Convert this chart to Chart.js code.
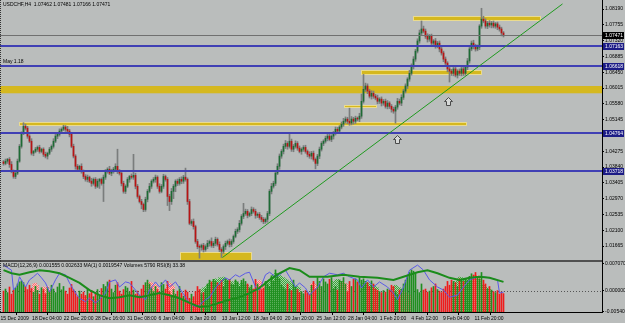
<!DOCTYPE html>
<html lang="en">
<head>
<meta charset="UTF-8">
<title>USDCHF H4</title>
<script src="https://cdn.jsdelivr.net/npm/chart.js"></script>
<style>
  html, body { margin: 0; padding: 0; background: #babdbc; }
  #wrap { position: relative; width: 625px; height: 323px; overflow: hidden; }
  #main { position: absolute; left: 0; top: 0; }
  #sub { position: absolute; left: 0; top: 261px; }
</style>
</head>
<body>
<div id="wrap">
  <canvas id="main" width="625" height="261"></canvas>
  <canvas id="sub" width="625" height="62"></canvas>
</div>
<script>
// H4 closes in pips above 1.0000 (394 -> 1.0394), bar 0 = 15 Dec 2009
const firstOpen = 398;
const closes = [
  394,400,405,391,372,358,367,400,441,477,
  496,491,469,455,422,427,433,438,427,433,
  419,414,422,433,441,455,469,474,483,488,
  494,488,483,474,441,414,386,378,386,372,
  358,350,356,345,339,350,331,345,350,339,
  356,372,378,367,372,378,386,372,367,339,
  317,331,350,358,356,361,331,303,289,281,
  267,295,317,331,345,350,356,331,317,331,
  358,350,303,289,317,331,345,339,350,345,
  356,350,289,229,234,220,179,165,163,168,
  157,165,174,179,168,174,185,171,157,152,
  165,174,179,171,179,193,207,212,229,248,
  256,262,251,256,267,262,251,254,245,240,
  234,240,256,317,331,339,367,386,414,427,
  441,449,441,455,433,441,449,436,427,433,
  438,427,419,414,422,405,394,414,433,449,
  455,463,469,460,469,477,488,483,494,502,
  510,516,510,505,516,510,518,516,524,565,
  598,607,593,579,587,579,574,565,571,560,
  565,551,560,551,543,538,549,565,560,576,
  593,607,626,642,662,681,703,731,753,764,
  758,744,736,744,725,731,717,725,709,698,
  681,670,654,648,642,654,637,648,642,654,
  642,659,676,709,725,717,709,714,772,791,
  786,772,780,775,780,772,778,769,764,753,
  747
];
// upper / lower shadow lengths in pips
const wickUp = [
  4,6,3,5,8,4,3,6,5,4, 10,6,5,4,7,3,5,4,6,3, 4,6,3,5,4,7,5,3,6,4, 5,4,8,5,3,6,4,5,3,7,
  4,5,6,3,8,4,5,6,3,4, 6,5,4,8,6,5,7,47,5,4, 6,4,5,3,7,58,6,5,4,6, 4,6,5,8,4,5,6,4,7,5,
  6,4,5,6,8,5,4,6,5,7, 5,25,4,6,5,7,4,6,5,4, 6,5,8,4,10,5,6,4,7,5, 5,6,4,7,5,4,6,5,8,5,
  28,6,5,4,7,5,6,4,5,6, 5,4,6,5,8,6,5,7,6,5, 6,8,5,20,6,5,7,5,6,4, 5,6,4,7,5,6,4,5,6,5,
  4,6,5,7,4,5,6,5,4,6, 8,6,5,36,7,5,6,4,8,20, 41,8,6,5,7,6,5,8,4,6, 5,6,7,4,5,6,5,8,6,7,
  5,6,4,8,6,7,5,6,8,22, 8,6,7,5,6,4,7,5,6,5, 5,6,4,7,5,6,5,4,6,5, 6,5,7,5,6,8,5,6,4,30,
  8,6,5,7,5,6,4,5,6,5, 4
];
const wickDn = [
  5,4,6,8,4,5,6,4,3,5, 4,5,6,4,5,7,4,6,5,4, 6,5,8,4,6,5,4,7,5,6, 4,6,5,7,4,5,8,6,4,5,
  6,5,7,4,8,5,6,4,20,5, 50,6,5,4,7,5,4,6,5,7, 5,6,4,8,5,6,7,5,4,12, 6,5,7,4,6,5,8,6,5,4,
  6,5,25,25,8,20,15,6,5,7, 6,5,8,4,6,7,5,6,30,8, 7,5,6,8,5,6,7,5,6,17, 6,8,5,7,6,5,4,6,7,5,
  6,5,7,4,6,5,8,6,5,7, 6,5,8,6,7,5,6,4,8,6, 7,6,8,5,6,7,5,6,4,8, 6,5,7,6,8,5,15,6,7,5,
  6,5,7,4,6,8,5,6,7,5, 6,5,7,6,5,8,6,5,7,6, 5,6,7,5,8,6,5,7,6,8, 6,5,7,6,8,6,33,6,5,7,
  6,5,7,6,5,8,6,5,6,7, 5,6,8,6,5,7,6,5,8,6, 7,6,8,30,6,7,5,8,6,7, 6,5,7,6,5,8,6,5,7,6,
  5,6,7,6,8,5,6,7,6,8, 5
];
const volumes = [
  820,900,760,980,700,860,940,1100,1180,1220, 1150,1000,880,1050,920,780,1010,850,700,950,
  880,720,960,800,1050,900,760,980,1120,870, 1000,820,700,940,1080,880,760,600,820,700,
  780,650,900,720,840,600,760,880,640,920, 1080,1000,1180,1250,900,760,1050,1150,820,700,
  880,1000,940,780,1200,860,700,820,650,900, 1050,1150,1250,1100,920,800,1000,880,760,1150,
  1080,900,1200,800,650,880,700,820,1000,740, 620,860,780,540,700,600,800,1000,880,720,
  760,900,1100,1250,1180,1280,1200,1150,1050,1240, 1000,1300,1220,1280,1100,1050,1260,1180,1000,1240,
  1300,1200,1100,950,1050,900,1280,1100,1000,880, 940,1200,1100,1000,1420,1200,1650,1500,1300,1050,
  960,880,1100,900,840,1250,1000,880,760,800, 720,840,760,700,1050,1200,900,1350,1200,1000,
  1300,1180,1100,1280,1350,900,1000,860,1250,1200, 1350,1100,800,1200,1000,1280,1300,1180,1350,1250,
  1300,1200,1150,1000,1220,1100,900,850,800,760, 840,780,900,860,1050,1000,800,700,860,900,
  1100,1250,1400,1550,1650,1600,1500,880,760,1100, 860,900,780,820,950,1000,1100,880,820,760,
  900,1000,1200,1050,1250,1200,1150,1000,1300,1250, 1200,1300,1250,1400,1500,1450,1550,1400,1300,1550,
  1250,1100,900,1000,860,800,760,840,700,780, 720
];
// dotted histogram blocks: [first bar, values]
const pinkHist = [
  [15, [1100,1130,1050]],
  [20, [980,950,1000,900]],
  [39, [520,560,580,540,500,560,520,480,500]],
  [72, [1100,1170,1150,1120,1080,1000]],
  [82, [1050,1130,1100,1000]],
  [92, [450,480,500,470,440,460,420]],
  [127, [1200,1250,1180,1100]],
  [154, [1100,1130,1080,1000,950]],
  [169, [1150,1170,1120,1080]],
  [199, [780,800,760,700,650]],
  [235, [1400,1440,1420,1380]]
];
const greenHist = [
  [99, [900,950,1000,1080,1150,1200,1250,1300,1280,1350,1320,1370,1300,1250,1280,1200,1150,1220,1180,1100,1150,1080,1000,1050,980,900,880]],
  [132, [1150,1250,1350,1450,1530,1500,1450,1400,1350,1300,1250,1200,1150,1100,1050,1000,950]],
  [165, [1200,1250,1280,1250,1200,1150]],
  [180, [1150,1200,1170,1150,1100,1050,1000,950]],
  [195, [1000,1050,1000,950]],
  [225, [1100,1200,1300,1370,1350,1300,1250,1300,1350,1300,1250]],
  [240, [1050,1000,950,900]]
];
// [bar, value 0..100]
const rsiPoints = [
  [0,92],[4,82],[5,43],[7,53],[8,69],[11,49],[13,63],[15,69],[17,76],[19,67],[21,57],[23,39],
  [26,63],[28,76],[31,73],[33,57],[36,37],[38,27],[41,20],[43,27],[46,18],[48,24],[51,37],[53,59],
  [56,63],[58,49],[61,59],[63,57],[66,43],[68,33],[71,24],[73,43],[76,59],[78,49],[81,63],[83,49],
  [86,59],[88,47],[91,29],[93,18],[96,10],[98,14],[101,24],[103,29],[106,47],[108,57],[111,67],[113,63],
  [116,73],[118,69],[121,76],[123,78],[126,49],[128,43],[131,73],[133,78],[136,69],[138,73],[141,82],[143,69],
  [146,49],[148,57],[151,47],[153,33],[157,49],[160,69],[163,76],[167,73],[170,76],[173,69],[177,63],[179,47],
  [182,63],[185,49],[188,59],[192,49],[195,37],[197,24],[200,49],[203,82],[207,92],[210,82],[213,63],[217,49],
  [220,43],[223,29],[227,33],[230,49],[233,63],[237,69],[240,69],[243,67],[247,63],[248,37],[250,39]
];
const maPoints = [
  [0,82],[4,76],[8,73],[13,78],[18,82],[23,80],[28,76],[33,67],[38,57],[43,43],[48,33],[53,27],
  [58,29],[63,33],[68,29],[73,33],[78,37],[83,33],[88,27],[93,18],[98,10],[103,12],[108,18],[113,24],
  [118,29],[123,37],[128,47],[133,63],[138,76],[143,86],[148,82],[153,69],[162,69],[170,73],[178,69],
  [187,67],[195,63],[200,69],[207,78],[212,82],[217,76],[223,67],[228,63],[233,67],[238,69],[243,67],[250,59]
];

const priceTicks = [1.08190,1.07755,1.07320,1.06885,1.06450,1.06015,1.05580,1.05145,1.04710,
  1.04275,1.03840,1.03405,1.02970,1.02535,1.02100,1.01665];
const subTicks = [0.007070, 0.000000, -0.005405];
const timeLabels = ['15 Dec 2009','18 Dec 04:00','22 Dec 20:00','28 Dec 16:00','31 Dec 08:00',
  '6 Jan 04:00','8 Jan 20:00','13 Jan 12:00','18 Jan 04:00','20 Jan 20:00','25 Jan 12:00',
  '28 Jan 04:00','1 Feb 20:00','4 Feb 12:00','9 Feb 04:00','11 Feb 20:00'];
const timeTickBars = [-1.5,14.3,30.1,45.9,61.7,77.5,93.3,109.1,124.9,140.7,156.5,172.3,188.1,203.9,219.7,235.5];

const bidPrice = 1.07471;
const blueLevels = [1.07163, 1.06618, 1.04764, 1.03718];
const bandZone = [1.0607, 1.0587];
// [from bar, to bar, top price, bottom price]
const zones = [
  [204.5, 268.5, 1.0800, 1.0786],
  [178.5, 239.5, 1.0651, 1.0637],
  [170, 186.5, 1.0554, 1.0546],
  [7.5, 232, 1.0507, 1.0496],
  [88, 124, 1.0149, 1.0118]
];
const trendLine = [[109.5, 1.0135], [279.5, 1.0833]];
const arrows = [[196.5, 1.0460], [222, 1.0565]];
const symbolText = 'USDCHF,H4  1.07462 1.07481 1.07166 1.07471';
const lineText = 'May 1.18';
const subText = 'MACD(12,26,9) 0.001555 0.002633 MA(1) 0.0019547 Volumes 5790 RSI(8) 33.38';

const BULL = '#1d6b34', BEAR = '#b81414', WICK = '#7a7d7c';
const FONT = '5px "Liberation Sans", Arial, sans-serif';
const pip = v => 1 + v / 10000;
const opens = closes.map((c, i) => i === 0 ? firstOpen : closes[i - 1]);
const isUp = closes.map((c, i) => c >= opens[i]);

const xRange = { type: 'linear', min: -1.75, max: 299.25, offset: false };

function stipple(dot, base) {
  const c = document.createElement('canvas');
  c.width = 2; c.height = 2;
  const g = c.getContext('2d');
  g.fillStyle = base; g.fillRect(0, 0, 2, 2);
  g.fillStyle = dot; g.fillRect(0, 0, 1, 1); g.fillRect(1, 1, 1, 1);
  return g.createPattern(c, 'repeat');
}

const mainOverlay = {
  id: 'mainOverlay',
  beforeDatasetsDraw(chart) {
    const { ctx, chartArea: a, scales: { x, y } } = chart;
    ctx.save();
    ctx.beginPath();
    ctx.rect(a.left, a.top, a.right - a.left, a.bottom - a.top);
    ctx.clip();
    ctx.fillStyle = '#d5b81f';
    const b0 = y.getPixelForValue(bandZone[0]), b1 = y.getPixelForValue(bandZone[1]);
    ctx.fillRect(a.left, b0, a.right - a.left, b1 - b0);
    zones.forEach(([s, e, p0, p1]) => {
      const x0 = Math.round(x.getPixelForValue(s)), x1 = Math.round(x.getPixelForValue(e));
      const y0 = Math.round(y.getPixelForValue(p0)), y1 = Math.round(y.getPixelForValue(p1));
      ctx.fillStyle = '#d5b81f';
      ctx.fillRect(x0, y0, x1 - x0, y1 - y0);
      ctx.strokeStyle = '#ffffff';
      ctx.lineWidth = 1;
      ctx.setLineDash([1, 1]);
      ctx.strokeRect(x0 + 0.5, y0 + 0.5, x1 - x0 - 1, y1 - y0 - 1);
      ctx.setLineDash([]);
    });
    ctx.restore();
  },
  afterDatasetsDraw(chart) {
    const { ctx, chartArea: a, scales: { x, y } } = chart;
    ctx.save();
    ctx.beginPath();
    ctx.rect(a.left, a.top, a.right - a.left, a.bottom - a.top);
    ctx.clip();
    // bid line
    let py = Math.round(y.getPixelForValue(bidPrice)) + 0.5;
    ctx.strokeStyle = '#707070';
    ctx.lineWidth = 1;
    ctx.beginPath(); ctx.moveTo(a.left, py); ctx.lineTo(a.right, py); ctx.stroke();
    // horizontal levels
    ctx.strokeStyle = '#4040b4';
    ctx.lineWidth = 2;
    blueLevels.forEach(p => {
      const yy = Math.round(y.getPixelForValue(p));
      ctx.beginPath(); ctx.moveTo(a.left, yy); ctx.lineTo(a.right, yy); ctx.stroke();
    });
    // trend line
    const [t0, t1] = trendLine;
    ctx.strokeStyle = '#1f9a1f';
    ctx.lineWidth = 1;
    ctx.beginPath();
    ctx.moveTo(x.getPixelForValue(t0[0]), y.getPixelForValue(t0[1]));
    ctx.lineTo(x.getPixelForValue(t1[0]), y.getPixelForValue(t1[1]));
    ctx.stroke();
    // hollow arrows
    arrows.forEach(([b, p]) => {
      const cx = Math.round(x.getPixelForValue(b)) + 0.5, cy = Math.round(y.getPixelForValue(p)) + 0.5;
      ctx.beginPath();
      ctx.moveTo(cx, cy - 4);
      ctx.lineTo(cx + 4, cy);
      ctx.lineTo(cx + 2, cy);
      ctx.lineTo(cx + 2, cy + 4);
      ctx.lineTo(cx - 2, cy + 4);
      ctx.lineTo(cx - 2, cy);
      ctx.lineTo(cx - 4, cy);
      ctx.closePath();
      ctx.fillStyle = 'rgba(235,235,235,0.6)';
      ctx.fill();
      ctx.strokeStyle = '#4a4a4a';
      ctx.stroke();
    });
    ctx.restore();
    ctx.save();
    ctx.font = FONT;
    ctx.fillStyle = '#000';
    ctx.textBaseline = 'top';
    ctx.fillText(symbolText, 3, 2);
    ctx.fillText(lineText, 3, 59);
    ctx.restore();
  },
  afterDraw(chart) {
    const { ctx, chartArea: a, scales: { y } } = chart;
    ctx.save();
    ctx.font = FONT;
    ctx.textBaseline = 'middle';
    const boxes = [[bidPrice, '#000000']].concat(blueLevels.map(p => [p, '#1c1c86']));
    boxes.forEach(([p, bg]) => {
      const yy = Math.round(y.getPixelForValue(p));
      ctx.fillStyle = bg;
      ctx.fillRect(a.right + 1, yy - 3, 21, 7);
      ctx.fillStyle = '#ffffff';
      ctx.fillText(p.toFixed(5), a.right + 3, yy + 0.5);
    });
    ctx.fillStyle = '#505050';
    ctx.fillRect(0, 260, a.right, 1);
    ctx.strokeStyle = '#333';
    ctx.setLineDash([1, 1]);
    ctx.beginPath(); ctx.moveTo(0.5, 0); ctx.lineTo(0.5, 261); ctx.stroke();
    ctx.restore();
  }
};

new Chart(document.getElementById('main'), {
  type: 'bar',
  data: {
    datasets: [
      {
        data: closes.map((c, i) => ({ x: i, y: [pip(opens[i]), pip(c)] })),
        backgroundColor: isUp.map(u => u ? BULL : BEAR),
        barThickness: 1, minBarLength: 1, grouped: false, order: 1
      },
      {
        data: closes.map((c, i) => ({
          x: i,
          y: [pip(Math.min(c, opens[i]) - (wickDn[i] || 0)), pip(Math.max(c, opens[i]) + (wickUp[i] || 0))]
        })),
        backgroundColor: WICK,
        barThickness: 1, grouped: false, order: 2
      }
    ]
  },
  options: {
    responsive: false,
    animation: false,
    layout: { padding: 0 },
    plugins: { legend: { display: false }, tooltip: { enabled: false } },
    scales: {
      x: { ...xRange, display: false },
      y: {
        position: 'right',
        min: 1.012527,
        max: 1.08438,
        afterBuildTicks: s => { s.ticks = priceTicks.map(v => ({ value: v })); },
        afterFit: s => { s.width = 23; s.paddingTop = 0; s.paddingBottom = 0; },
        ticks: { font: { size: 5, family: '"Liberation Sans", Arial' }, color: '#000', padding: 1, autoSkip: false,
          callback: v => v.toFixed(5) },
        grid: { drawOnChartArea: false, tickLength: 2, color: '#000' },
        border: { color: '#000' }
      }
    }
  },
  plugins: [mainOverlay]
});

const subOverlay = {
  id: 'subOverlay',
  beforeDatasetsDraw(chart) {
    const { ctx, chartArea: a, scales: { y } } = chart;
    const zy = Math.round(y.getPixelForValue(0)) + 0.5;
    ctx.save();
    ctx.strokeStyle = '#555';
    ctx.setLineDash([1, 2]);
    ctx.beginPath(); ctx.moveTo(a.left, zy); ctx.lineTo(a.right, zy); ctx.stroke();
    ctx.restore();
  },
  afterDraw(chart) {
    const { ctx, chartArea: a } = chart;
    ctx.save();
    ctx.fillStyle = '#505050';
    ctx.fillRect(0, 0, a.right, 1);
    ctx.font = FONT;
    ctx.fillStyle = '#000';
    ctx.textBaseline = 'top';
    ctx.fillText(subText, 3, 2);
    ctx.strokeStyle = '#333';
    ctx.setLineDash([1, 1]);
    ctx.beginPath(); ctx.moveTo(0.5, 0); ctx.lineTo(0.5, a.bottom); ctx.stroke();
    ctx.restore();
  }
};

const expand = blocks => blocks.flatMap(([s, vals]) => vals.map((v, j) => ({ x: s + j, y: v })));

new Chart(document.getElementById('sub'), {
  type: 'bar',
  data: {
    datasets: [
      {
        type: 'line', data: maPoints.map(([b, v]) => ({ x: b, y: v })), yAxisID: 'yLine',
        borderColor: '#1b8c1b', borderWidth: 2, pointRadius: 0, order: 0
      },
      {
        type: 'line', data: rsiPoints.map(([b, v]) => ({ x: b, y: v })), yAxisID: 'yLine',
        borderColor: '#5a5ae6', borderWidth: 1, pointRadius: 0, order: 1
      },
      {
        data: volumes.map((v, i) => ({ x: i, y: v })), yAxisID: 'yVol',
        backgroundColor: isUp.map(u => u ? '#1f8f1f' : '#ee1c1c'),
        barThickness: 1, grouped: false, order: 2
      },
      {
        data: expand(pinkHist), yAxisID: 'yVol',
        backgroundColor: stipple('#ff6a6a', '#ffc4c4'),
        barThickness: 2, grouped: false, order: 3
      },
      {
        data: expand(greenHist), yAxisID: 'yVol',
        backgroundColor: stipple('#3a9e3a', '#a8d8a8'),
        barThickness: 2, grouped: false, order: 4
      }
    ]
  },
  options: {
    responsive: false,
    animation: false,
    layout: { padding: 0 },
    plugins: { legend: { display: false }, tooltip: { enabled: false } },
    scales: {
      x: {
        ...xRange,
        position: 'bottom',
        afterBuildTicks: s => { s.ticks = timeTickBars.map(v => ({ value: v })); },
        afterFit: s => { s.height = 11; s.paddingLeft = 0; s.paddingRight = 0; },
        ticks: { font: { size: 5, family: '"Liberation Sans", Arial' }, color: '#000', padding: 1,
          align: 'start', maxRotation: 0, autoSkip: false,
          callback: (v, i) => timeLabels[i] },
        grid: { drawOnChartArea: false, tickLength: 3, color: '#000' },
        border: { color: '#000' }
      },
      y: {
        position: 'right',
        min: -0.0055,
        max: 0.007855,
        afterBuildTicks: s => { s.ticks = subTicks.map(v => ({ value: v })); },
        afterFit: s => { s.width = 23; s.paddingTop = 0; s.paddingBottom = 0; },
        ticks: { font: { size: 5, family: '"Liberation Sans", Arial' }, color: '#000', padding: 1, autoSkip: false,
          callback: v => v.toFixed(6) },
        grid: { drawOnChartArea: false, tickLength: 2, color: '#000' },
        border: { color: '#000' }
      },
      yVol: { display: false, min: 0, max: 2000 },
      yLine: { display: false, min: 0, max: 100 }
    }
  },
  plugins: [subOverlay]
});
</script>
</body>
</html>
